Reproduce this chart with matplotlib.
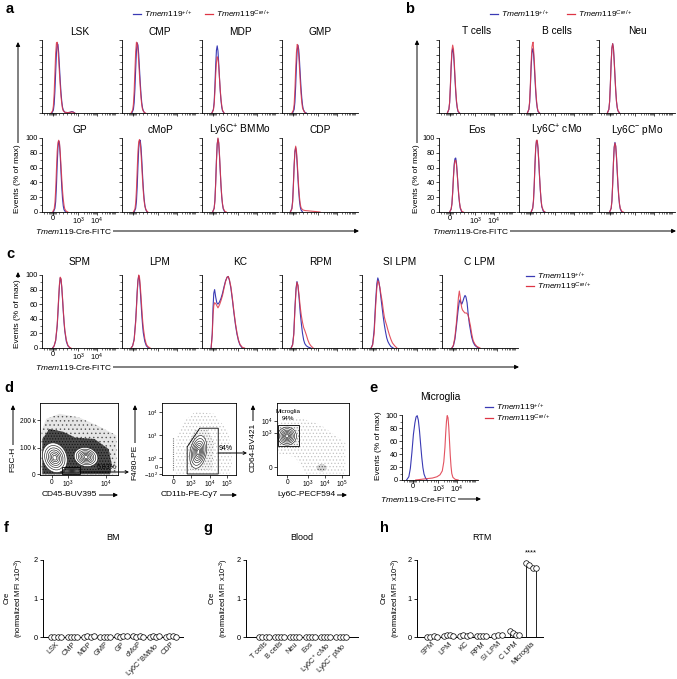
import matplotlib
matplotlib.use("Agg")
import matplotlib.pyplot as plt
from matplotlib.patches import Ellipse, Polygon, Rectangle, FancyArrowPatch
from matplotlib.lines import Line2D

plt.rcParams["font.family"] = ["Liberation Sans", "DejaVu Sans"]
plt.rcParams["mathtext.fontset"] = "custom"
plt.rcParams["mathtext.rm"] = "Liberation Sans"
plt.rcParams["mathtext.it"] = "Liberation Sans:italic"
plt.rcParams["mathtext.bf"] = "Liberation Sans:bold"
plt.rcParams["hatch.linewidth"] = 0.5

W, H = 677, 679
BLUE = "#3a3ab4"
RED = "#de3444"

WT_LABEL = r"$\mathit{Tmem119}^{\mathit{+/+}}$"
CRE_LABEL = r"$\mathit{Tmem119}^{\mathit{Cre/+}}$"
FITC_LABEL = r"$\mathit{Tmem119}$-Cre-FITC"

# ---- histogram data (x = display channel 0-100, y = % of max) ----
A_TITLES = ["LSK", "CMP", "MDP", "GMP", "GP", "cMoP", "Ly6C$^{+}$ BMMo", "CDP"]
A_WT = [
    [(13, 0), (15, 4), (16, 12), (17, 30), (18, 56), (19, 82), (20, 95), (21, 94), (22, 82), (23, 63), (24, 44),
     (25, 28), (26, 16), (27, 8), (28, 4), (30, 1), (34, 0.5), (37, 1), (39, 2), (41, 1.5), (43, 0)],
    [(13, 0), (15, 5), (16, 14), (17, 33), (18, 60), (19, 85), (20, 96), (21, 93), (22, 80), (23, 61), (24, 42),
     (25, 26), (26, 14), (27, 7), (28, 3), (30, 0)],
    [(13, 0), (15, 5), (16, 15), (17, 37), (18, 65), (19, 86), (20, 92), (21, 85), (22, 68), (23, 48), (24, 30),
     (25, 17), (26, 8), (27, 3), (29, 0)],
    [(14, 0), (16, 5), (17, 15), (18, 37), (19, 65), (20, 86), (21, 93), (22, 87), (23, 72), (24, 53), (25, 35),
     (26, 21), (27, 11), (28, 5), (30, 1), (32, 0)],
    [(15, 0), (17, 5), (18, 14), (19, 35), (20, 64), (21, 87), (22, 96), (23, 92), (24, 76), (25, 54), (26, 34),
     (27, 18), (28, 8), (29, 3), (31, 0)],
    [(16, 0), (18, 5), (19, 14), (20, 34), (21, 62), (22, 86), (23, 96), (24, 97), (25, 88), (26, 71), (27, 51),
     (28, 33), (29, 19), (30, 10), (31, 4), (33, 0)],
    [(14, 0), (16, 5), (17, 16), (18, 40), (19, 70), (20, 92), (21, 99), (22, 93), (23, 76), (24, 55), (25, 35),
     (26, 20), (27, 10), (28, 4), (30, 0)],
    [(11, 0), (13, 5), (14, 15), (15, 38), (16, 64), (17, 82), (18, 87), (19, 80), (20, 64), (21, 45), (22, 28),
     (23, 15), (24, 7), (25, 3), (27, 0)],
]
A_CRE = [
    [(12, 0), (14, 3), (15, 10), (16, 27), (17, 55), (18, 82), (19, 96), (20, 97), (21, 88), (22, 72), (23, 54),
     (24, 37), (25, 23), (26, 13), (27, 6), (28, 3), (30, 1), (34, 0.5), (37, 1), (39, 1.5), (41, 1), (43, 0)],
    [(12, 0), (14, 4), (15, 12), (16, 30), (17, 58), (18, 84), (19, 97), (20, 96), (21, 86), (22, 70), (23, 52),
     (24, 35), (25, 21), (26, 11), (27, 5), (29, 1), (31, 0)],
    [(13, 0), (15, 4), (16, 12), (17, 30), (18, 52), (19, 69), (20, 77), (21, 75), (22, 64), (23, 48), (24, 32),
     (25, 19), (26, 10), (27, 4), (29, 0)],
    [(13, 0), (15, 4), (16, 12), (17, 32), (18, 60), (19, 83), (20, 94), (21, 92), (22, 80), (23, 62), (24, 43),
     (25, 27), (26, 15), (27, 7), (29, 2), (31, 0)],
    [(14, 0), (16, 4), (17, 12), (18, 30), (19, 57), (20, 82), (21, 94), (22, 97), (23, 93), (24, 80), (25, 63),
     (26, 45), (27, 29), (28, 17), (29, 9), (30, 4), (32, 1), (34, 0)],
    [(15, 0), (17, 4), (18, 12), (19, 30), (20, 57), (21, 82), (22, 95), (23, 98), (24, 93), (25, 80), (26, 62),
     (27, 44), (28, 28), (29, 16), (30, 8), (32, 2), (34, 0)],
    [(14, 0), (16, 5), (17, 15), (18, 38), (19, 68), (20, 91), (21, 100), (22, 94), (23, 78), (24, 57), (25, 37),
     (26, 21), (27, 11), (28, 5), (30, 1), (32, 0)],
    [(11, 0), (13, 4), (14, 13), (15, 35), (16, 62), (17, 82), (18, 89), (19, 83), (20, 68), (21, 50), (22, 33),
     (23, 20), (24, 11), (25, 6), (27, 3), (30, 2), (35, 1.5), (40, 1), (45, 0.5), (50, 0)],
]

B_TITLES = ["T cells", "B cells", "Neu", "Eos", "Ly6C$^{+}$ cMo", "Ly6C$^{-}$ pMo"]
B_WT = [
    [(11, 0), (13, 5), (14, 14), (15, 36), (16, 63), (17, 82), (18, 88), (19, 83), (20, 67), (21, 47), (22, 29),
     (23, 15), (24, 7), (25, 2), (27, 0)],
    [(11, 0), (13, 5), (14, 14), (15, 36), (16, 63), (17, 82), (18, 88), (19, 83), (20, 67), (21, 47), (22, 29),
     (23, 15), (24, 7), (25, 2), (27, 0)],
    [(11, 0), (13, 5), (14, 16), (15, 40), (16, 69), (17, 89), (18, 95), (19, 89), (20, 72), (21, 51), (22, 31),
     (23, 16), (24, 7), (25, 3), (27, 0)],
    [(14, 0), (16, 4), (17, 11), (18, 27), (19, 48), (20, 65), (21, 72), (22, 73), (23, 66), (24, 52), (25, 36),
     (26, 22), (27, 12), (28, 5), (30, 0)],
    [(16, 0), (18, 5), (19, 14), (20, 35), (21, 63), (22, 86), (23, 96), (24, 96), (25, 86), (26, 68), (27, 48),
     (28, 30), (29, 16), (30, 7), (32, 1), (34, 0)],
    [(14, 0), (16, 5), (17, 15), (18, 38), (19, 67), (20, 88), (21, 94), (22, 89), (23, 74), (24, 54), (25, 35),
     (26, 20), (27, 10), (28, 4), (30, 0)],
]
B_CRE = [
    [(11, 0), (13, 5), (14, 15), (15, 38), (16, 66), (17, 86), (18, 93), (19, 88), (20, 72), (21, 51), (22, 32),
     (23, 17), (24, 8), (25, 3), (27, 0)],
    [(11, 0), (13, 5), (14, 16), (15, 40), (16, 70), (17, 90), (18, 96), (18.6, 97), (19, 90), (20, 74), (21, 53),
     (22, 33), (23, 18), (24, 8), (25, 3), (27, 0)],
    [(11, 0), (13, 5), (14, 16), (15, 41), (16, 70), (17, 89), (18, 95), (19, 88), (20, 71), (21, 50), (22, 31),
     (23, 16), (24, 8), (25, 3), (27, 0)],
    [(14, 0), (16, 4), (17, 11), (18, 26), (19, 46), (20, 62), (21, 69), (22, 70), (23, 64), (24, 51), (25, 36),
     (26, 23), (27, 13), (28, 6), (30, 1), (32, 0)],
    [(16, 0), (18, 5), (19, 15), (20, 36), (21, 65), (22, 88), (23, 97), (24, 97), (25, 87), (26, 69), (27, 49),
     (28, 31), (29, 17), (30, 8), (32, 2), (34, 0)],
    [(14, 0), (16, 5), (17, 15), (18, 37), (19, 66), (20, 87), (21, 93), (22, 89), (23, 75), (24, 56), (25, 37),
     (26, 22), (27, 11), (28, 5), (30, 1), (32, 0)],
]

C_TITLES = ["SPM", "LPM", "KC", "RPM", "SI LPM", "C LPM"]
C_WT = [
    [(14, 0), (16, 3), (18, 10), (20, 30), (21, 48), (22, 68), (23, 86), (24, 96), (25, 94), (26, 83), (27, 67),
     (28, 50), (29, 35), (30, 23), (32, 9), (34, 3), (37, 0)],
    [(12, 0), (14, 3), (16, 12), (18, 38), (19, 57), (20, 78), (21, 93), (22, 99), (23, 94), (24, 80), (25, 63),
     (26, 46), (27, 32), (28, 21), (30, 9), (32, 3), (35, 0)],
    [(12, 0), (13.5, 20), (14.5, 55), (15.5, 75), (16.6, 80), (18, 70), (19.5, 62), (21, 60), (23, 63), (25, 68),
     (27, 75), (29, 84), (31, 92), (33, 97), (34.5, 98), (36, 93), (38, 82), (40, 66), (42, 48), (44, 32),
     (46, 19), (48, 10), (50, 4), (53, 0)],
    [(12, 0), (14, 5), (15.5, 20), (17, 55), (18.5, 82), (19.7, 91), (21, 85), (22.5, 68), (24, 48), (25.5, 33),
     (27, 20), (28.5, 11), (30, 6), (32, 3), (35, 1), (38, 0)],
    [(12, 0), (14, 5), (16, 25), (18, 65), (19.5, 88), (20.8, 96), (22, 92), (23.5, 82), (25, 68), (26.5, 55),
     (28, 42), (29.5, 31), (31, 22), (32.5, 14), (34, 9), (36, 5), (38, 2), (41, 0)],
    [(13, 0), (15, 3), (17, 12), (19, 30), (21, 50), (22.5, 62), (23.7, 66), (25, 62), (26, 60), (27.5, 64),
     (29, 69), (30.3, 72), (31.5, 70), (33, 62), (34.6, 45), (36, 33), (37.5, 24), (39, 15), (41, 8), (43, 4),
     (45, 2), (48, 0)],
]
C_CRE = [
    [(14, 0), (16, 3), (18, 11), (20, 32), (21, 51), (22, 71), (23, 88), (24, 97), (25, 95), (26, 84), (27, 69),
     (28, 52), (29, 37), (30, 25), (32, 11), (34, 4), (36, 1), (38, 0)],
    [(12, 0), (14, 3), (16, 11), (18, 35), (19, 54), (20, 75), (21, 91), (22, 100), (23, 97), (24, 86), (25, 71),
     (26, 55), (27, 40), (28, 28), (30, 13), (32, 5), (34, 2), (37, 0)],
    [(12, 0), (13.5, 18), (14.5, 45), (15.5, 58), (16.6, 62), (18, 61), (19.5, 58), (21, 55), (23, 59), (25, 65),
     (27, 72), (29, 82), (31, 91), (33, 97), (34.5, 98), (36, 94), (38, 84), (40, 68), (42, 50), (44, 34),
     (46, 21), (48, 11), (50, 5), (53, 1), (56, 0)],
    [(12, 0), (14, 4), (15.5, 18), (17, 52), (18.5, 80), (19.7, 90), (21, 86), (22.5, 72), (24, 56), (25.5, 44),
     (27, 35), (28.5, 28), (30, 24), (32, 18), (34, 11), (36, 6), (38, 3), (41, 0)],
    [(12, 0), (14, 4), (16, 20), (18, 58), (19.5, 82), (20.8, 92), (22, 90), (23.5, 83), (25, 73), (26.5, 64),
     (28, 52), (29.5, 42), (31, 36), (32.5, 31), (34, 25), (36, 18), (38, 12), (40, 7), (43, 3), (46, 0)],
    [(13, 0), (15, 4), (17, 15), (19, 35), (20.5, 55), (21.7, 70), (22.8, 78), (24, 70), (25, 61), (26, 55),
     (27, 52), (28.5, 50), (30, 48), (32, 48), (34, 46), (35.5, 40), (37.5, 30), (39, 20), (41, 10), (43.5, 5),
     (46, 2), (50, 0)],
]

E_WT = [(6, 0), (9, 5), (11, 18), (13, 42), (15, 70), (17, 88), (18.5, 97), (20, 99), (21.5, 92), (23, 76),
        (24.5, 55), (26, 35), (27.5, 19), (29, 9), (31, 3), (33, 0)]
E_CRE = [(18, 0), (25, 1), (32, 2), (40, 3), (46, 5), (50, 8), (53, 14), (55, 28), (56.5, 50), (57.5, 72),
         (58.5, 90), (59.5, 99), (60.5, 96), (61.5, 82), (62.5, 60), (63.5, 38), (64.5, 21), (65.5, 10), (67, 4),
         (70, 1), (74, 0)]

# ---- gating plots (channel units 0-100 on both axes) ----
D1_CLOUD = [(2, 1), (2, 62), (8, 78), (25, 85), (50, 80), (75, 68), (98, 55), (98, 1)]
D1_DENSE = [(3, 1), (3, 50), (12, 64), (30, 60), (45, 52), (70, 50), (88, 36), (92, 15), (90, 1)]
D1_POPS = [(19, 24, 31, 42, 15), (59, 25, 31, 26, -20), (41, 5.5, 18, 6, 0)]
D1_GATE = (28, 1.4, 23, 9.6)
D2_CLOUD = [(18, 2), (20, 55), (30, 75), (45, 88), (70, 85), (90, 60), (95, 20), (92, 2)]
D2_DENSE = [(38, 6), (36, 42), (44, 62), (60, 65), (70, 45), (68, 8)]
D2_POPS = [(49, 32, 22, 46, -10)]
D2_STREAK = [(15, 7), (15, 53)]
D2_GATE = [(34, 1.4), (34, 39), (51, 65), (76, 65), (76, 1.4)]
D3_CLOUD = [(2, 30), (2, 75), (30, 80), (60, 70), (95, 45), (95, 2), (40, 2), (25, 25)]
D3_DENSE = [(2, 38), (2, 70), (32, 70), (32, 38)]
D3_POPS = [(14, 54, 26, 25, 0)]
D3_SPOT = (62, 10, 14, 10)
D3_GATE = (1, 40, 29, 29)

# ---- normalized MFI ----
F_CATS = ["LSK", "CMP", "MDP", "GMP", "GP", "cMoP", "Ly6C$^{+}$BMMo", "CDP"]
F_VALS = [[0.0, 0.01, 0.0, 0.01], [0.01, 0.0, 0.0, 0.01], [0.01, 0.02, 0.01, 0.02], [0.0, 0.01, 0.01, 0.0],
          [0.02, 0.01, 0.02, 0.02], [0.02, 0.01, 0.02, 0.01], [0.01, 0.02, 0.01, 0.02], [0.01, 0.03, 0.02, 0.01]]
G_CATS = ["T cells", "B cells", "Neu", "Eos", "Ly6C$^{+}$ cMo", "Ly6C$^{-}$ pMo"]
G_VALS = [[0.0, 0.0, 0.01, 0.0], [0.0, 0.01, 0.0, 0.0], [0.01, 0.0, 0.01, 0.0], [0.0, 0.01, 0.0, 0.01],
          [0.01, 0.0, 0.01, 0.01], [0.0, 0.01, 0.01, 0.0]]
H_CATS = ["SPM", "LPM", "KC", "RPM", "SI LPM", "C LPM", "Microglia"]
H_VALS = [[0.0, 0.01, 0.02, 0.0], [0.03, 0.04, 0.04, 0.03], [0.03, 0.04, 0.02, 0.05], [0.02, 0.02, 0.03, 0.02],
          [0.03, 0.04, 0.04], [0.15, 0.1, 0.05, 0.06], [1.93, 1.87, 1.78, 1.80]]

fig = plt.figure(figsize=(W / 100, H / 100), dpi=100)


def fx(x):
    return x / W


def fy(y):
    return 1 - y / H


def px_axes(left, top, width, height):
    return fig.add_axes([fx(left), fy(top + height), width / W, height / H])


def text(x, y, s, size=6, **kw):
    kw.setdefault("ha", "center")
    kw.setdefault("va", "center")
    return fig.text(fx(x), fy(y), s, fontsize=size, **kw)


def arrow(x0, y0, x1, y1, style="-|>", scale=6):
    fig.add_artist(FancyArrowPatch((fx(x0), fy(y0)), (fx(x1), fy(y1)), transform=fig.transFigure,
                                   arrowstyle=style, mutation_scale=scale, lw=0.7, color="black",
                                   shrinkA=0, shrinkB=0, zorder=1))


def x_arrow(x0, x1, y, label):
    arrow(x0, y, x1, y)
    text(x0, y, label, size=6, ha="left", bbox=dict(facecolor="white", edgecolor="none", pad=1), zorder=3)


def y_arrow(x, y0, y1, label):
    arrow(x, y0, x, y1)
    text(x, y0, label, size=6, va="bottom", rotation=90,
         bbox=dict(facecolor="white", edgecolor="none", pad=1), zorder=3)


def legend(x, y, dy=0, dx=0):
    for i, (col, lab) in enumerate(((BLUE, WT_LABEL), (RED, CRE_LABEL))):
        xx, yy = x + i * dx, y + i * dy
        fig.add_artist(Line2D([fx(xx), fx(xx + 8)], [fy(yy), fy(yy)], color=col, lw=0.9))
        text(xx + 11, yy, lab, size=6, ha="left")


HX_MAJOR = [14, 48, 72]
HX_MINOR = [3, 6, 9, 11, 12, 13, 15, 16, 17, 19, 23, 28, 33, 38, 42, 45, 55, 59, 62, 65, 67, 68, 70, 71,
            79, 83, 86, 88, 90, 92, 93, 95, 96]


def hist(left, top, height, title, title_y, wt, cre, labels=False, width=76):
    ax = px_axes(left, top, width, height)
    for pts, col, a in ((wt, BLUE, 1.0), (cre, RED, 0.85)):
        xs, ys = zip(*pts)
        ax.plot(xs, ys, color=col, lw=0.8, alpha=a, solid_joinstyle="round", clip_on=False)
    ax.set_xlim(0, 100)
    ax.set_ylim(0, 100)
    ax.spines[["top", "right"]].set_visible(False)
    ax.spines[["left", "bottom"]].set_linewidth(0.6)
    ax.set_xticks(HX_MAJOR)
    ax.set_xticks(HX_MINOR, minor=True)
    ax.set_yticks(range(0, 101, 20))
    ax.set_yticks(range(10, 100, 20), minor=True)
    ax.tick_params(length=2, width=0.5, labelsize=5.3, pad=1)
    ax.tick_params(axis="x", pad=0.5)
    ax.tick_params(which="minor", length=1.2, width=0.4)
    if labels:
        ax.set_xticklabels(["0", "10$^{3}$", "10$^{4}$"])
    else:
        ax.set_xticklabels([])
        ax.set_yticklabels([])
    text(left + width / 2, title_y, title, size=7.3)
    return ax


# ---- panel a ----
for i, title in enumerate(A_TITLES):
    r, c = divmod(i, 4)
    top = 40 if r == 0 else 138
    hist(42 + 80 * c, top, 73 if r == 0 else 74, title, 32 if r == 0 else 130, A_WT[i], A_CRE[i],
         labels=(r == 1 and c == 0))
legend(133, 14, dx=72)
y_arrow(18, 213, 42, "Events (% of max)")
x_arrow(35, 359, 231, FITC_LABEL)

# ---- panel b ----
for i, title in enumerate(B_TITLES):
    r, c = divmod(i, 3)
    top = 40 if r == 0 else 138
    hist(439 + 80 * c, top, 73 if r == 0 else 74, title, 31 if r == 0 else 130, B_WT[i], B_CRE[i],
         labels=(r == 1 and c == 0))
legend(490, 14, dx=77)
y_arrow(417, 213, 40, "Events (% of max)")
x_arrow(432, 676, 231, FITC_LABEL)

# ---- panel c ----
for i, title in enumerate(C_TITLES):
    hist(42 + 80 * i, 275, 73, title, 262, C_WT[i], C_CRE[i], labels=(i == 0))
legend(526, 276, dy=10)
y_arrow(18, 348, 272, "Events (% of max)")
x_arrow(35, 519, 367, FITC_LABEL)

# ---- panel e ----
hist(402, 415, 65, "Microglia", 397, E_WT, E_CRE, labels=True)
legend(485, 407, dy=11)
y_arrow(378, 480, 412, "Events (% of max)")
x_arrow(380, 481, 499, FITC_LABEL)


# ---- panel d ----
CONTOUR_SCALES = [1.0, 0.82, 0.66, 0.52, 0.39, 0.27, 0.16]


def dot_axes(left, width, xt, xl, yt, yl, ysize=4.7):
    ax = px_axes(left, 403, width, 72)
    ax.set_xlim(0, 100)
    ax.set_ylim(0, 100)
    for s in ax.spines.values():
        s.set_linewidth(0.6)
    ax.set_xticks(xt)
    ax.set_xticklabels(xl)
    ax.set_yticks(yt)
    ax.set_yticklabels(yl)
    ax.tick_params(length=2, width=0.5, labelsize=4.7, pad=1)
    ax.tick_params(axis="y", labelsize=ysize)
    return ax


def draw_cloud(ax, outer, dense, outer_style, dense_style):
    fc, ec, hatch = outer_style
    ax.add_patch(Polygon(outer, closed=True, facecolor=fc, edgecolor=ec, hatch=hatch, lw=0))
    fc, ec, hatch = dense_style
    ax.add_patch(Polygon(dense, closed=True, facecolor=fc, edgecolor=ec, hatch=hatch, lw=0))


def draw_pops(ax, pops):
    for cx, cy, w, h, ang in pops:
        ax.add_patch(Ellipse((cx, cy), w, h, angle=ang, facecolor="white", edgecolor="none"))
        for f in CONTOUR_SCALES:
            ax.add_patch(Ellipse((cx, cy), w * f, h * f, angle=ang, fill=False, lw=0.45, edgecolor="#222222"))


LIGHT = ("white", "#c4c4c4", ".....")
MID = ("#f4f4f4", "#8c8c8c", "......")

d1 = dot_axes(40, 78, [15, 36, 85], ["0", "10$^{3}$", "10$^{4}$"], [1, 37.5, 76], ["0", "100 k", "200 k"])
draw_cloud(d1, D1_CLOUD, D1_DENSE, ("#e6e6e6", "#555555", "...."), ("#4a4a4a", "#111111", "......"))
draw_pops(d1, D1_POPS)
gx, gy, gw, gh = D1_GATE
d1.add_patch(Rectangle((gx, gy), gw, gh, fill=False, lw=0.6, edgecolor="black"))
d1.text(86, 10, "5.83%", fontsize=5, ha="center", va="center")
arrow(80, 472, 129, 472, style="->", scale=5)
y_arrow(13, 472, 405, "FSC-H")
x_arrow(42, 118, 495, "CD45-BUV395")

d2 = dot_axes(162, 74, [15, 39, 65, 88], ["0", "10$^{3}$", "10$^{4}$", "10$^{5}$"],
              [1, 11, 23.6, 55.5, 87.5], ["$-$10$^{2}$", "0", "10$^{2}$", "10$^{3}$", "10$^{4}$"], ysize=4.2)
draw_cloud(d2, D2_CLOUD, D2_DENSE, LIGHT, MID)
sx, sy = zip(*D2_STREAK)
d2.plot(sx, sy, color="#777777", lw=0.8, ls=(0, (1, 1)))
draw_pops(d2, D2_POPS)
d2.add_patch(Polygon(D2_GATE, closed=True, fill=False, lw=0.6, edgecolor="black"))
text(226, 448, "94%", size=5)
arrow(218, 453, 247, 453, style="->", scale=5)
y_arrow(135, 480, 405, "F4/80-PE")
x_arrow(161, 237, 495, "CD11b-PE-Cy7")

d3 = dot_axes(277, 72, [14, 43, 67, 90], ["0", "10$^{3}$", "10$^{4}$", "10$^{5}$"],
              [11, 58, 75], ["0", "10$^{3}$", "10$^{4}$"])
draw_cloud(d3, D3_CLOUD, D3_DENSE, LIGHT, MID)
spx, spy, spw, sph = D3_SPOT
d3.add_patch(Ellipse((spx, spy), spw, sph, facecolor="#d8d8d8", edgecolor="#555555", hatch="......", lw=0))
draw_pops(d3, D3_POPS)
gx, gy, gw, gh = D3_GATE
d3.add_patch(Rectangle((gx, gy), gw, gh, fill=False, lw=0.6, edgecolor="black"))
d3.text(15, 88, "Microglia", fontsize=4.5, ha="center", va="center")
d3.text(15, 79, "94%", fontsize=4.5, ha="center", va="center")
y_arrow(253, 472, 405, "CD64-BV421")
x_arrow(277, 347, 495, "Ly6C-PECF594")


# ---- panels f, g, h ----
OFFSETS = {3: [-0.25, 0.0, 0.25], 4: [-0.3, -0.1, 0.1, 0.3]}


def mfi(left, width, xlim, cats, vals, title, title_x, ylab_x):
    ax = px_axes(left, 560, width, 77)
    for i, v in enumerate(vals):
        ax.bar(i, sum(v) / len(v), width=0.6, facecolor="white", edgecolor="black", lw=0.6, zorder=1)
        ax.scatter([i + o for o in OFFSETS[len(v)]], v, s=16, facecolor="white", edgecolor="black",
                   lw=0.5, zorder=3, clip_on=False)
    ax.set_xlim(*xlim)
    ax.set_ylim(0, 2)
    ax.spines[["top", "right"]].set_visible(False)
    ax.spines[["left", "bottom"]].set_linewidth(0.7)
    ax.set_yticks([0, 1, 2])
    ax.set_xticks(range(len(cats)))
    ax.set_xticklabels(cats, rotation=45, ha="right", va="top", rotation_mode="anchor", color="#222222")
    ax.tick_params(axis="y", length=2.5, width=0.6, labelsize=5.3, pad=1.5)
    ax.tick_params(axis="x", length=0, labelsize=5.3, pad=2.5)
    text(title_x, 538, title, size=6.5)
    text(ylab_x, 598, "Cre\n(normalized MFI x10$^{-3}$)", size=5.5, rotation=90, linespacing=1.2)
    return ax


mfi(43, 140, (-0.8, 7.74), F_CATS, F_VALS, "BM", 113, 15)
mfi(246, 112, (-1.17, 6.1), G_CATS, G_VALS, "Blood", 302, 220)
h = mfi(417, 126, (-0.91, 6.73), H_CATS, H_VALS, "RTM", 482, 392)
h.text(6, 2.18, "****", fontsize=5.5, ha="center", va="center", clip_on=False)

# ---- panel letters ----
for lab, x, y in (("a", 6, 13), ("b", 405, 13), ("c", 6, 258), ("d", 4, 392), ("e", 369, 392),
                  ("f", 4, 532), ("g", 203, 532), ("h", 380, 532)):
    text(x, y, lab, size=10.5, ha="left", va="baseline", fontweight="bold")

fig.savefig("out.png", dpi=100)
